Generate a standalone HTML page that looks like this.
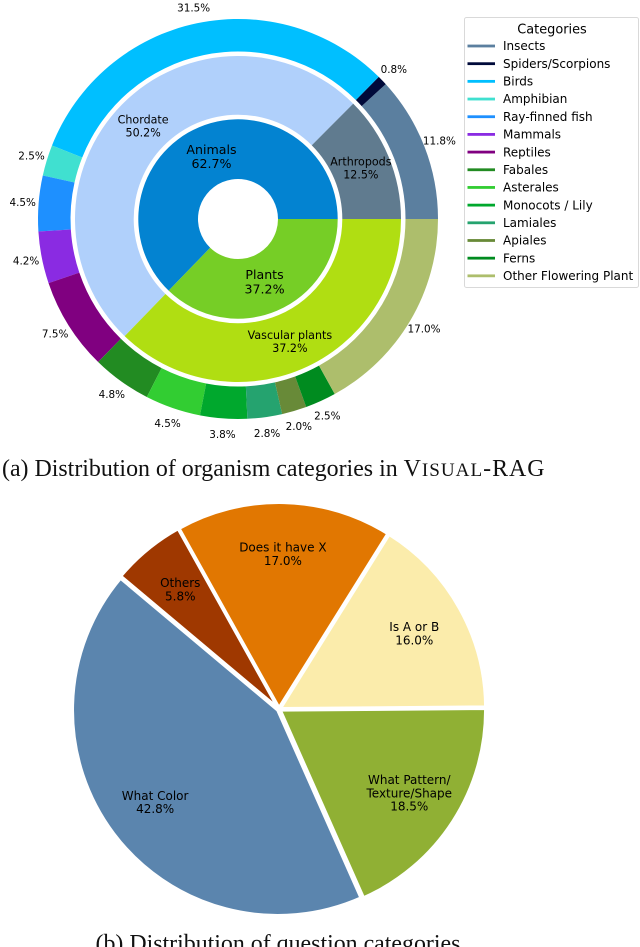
<!DOCTYPE html>
<html>
<head>
<meta charset="utf-8">
<style>
html,body{margin:0;padding:0;background:#fff;width:640px;height:947px;overflow:hidden}
svg{display:block}
text{font-family:"DejaVu Sans",sans-serif;fill:#000}
.cap{font-family:"Liberation Serif",serif;font-size:23.9px;fill:#111}
</style>
</head>
<body>
<svg id="fig" width="640" height="947" viewBox="0 0 640 947" xmlns="http://www.w3.org/2000/svg">
<g id="sunburst"></g>
<g id="legend"></g>
<text class="cap" x="2" y="476">(a) Distribution of organism categories in <tspan letter-spacing="1">V<tspan font-size="19.1">ISUAL</tspan>-RAG</tspan></text>
<g id="pie"></g>
<text class="cap" x="95.5" y="951">(b) Distribution of question categories</text>
</svg>
<script>
var innerLabels = ['Animals', 'Plants'];
var innerValues = [62.7, 37.2];
var innerColors = ['#0383d1', '#76ce26'];

var middleLabels = ['Arthropods', 'Chordate', 'Vascular plants'];
var middleValues = [12.5, 50.2, 37.2];
var middleColors = ['#607b8f', '#b0d0fb', '#b0de12'];

var outerLabels = ['Insects', 'Spiders/Scorpions', 'Birds', 'Amphibian', 'Ray-finned fish', 'Mammals', 'Reptiles', 'Fabales', 'Asterales', 'Monocots / Lily', 'Lamiales', 'Apiales', 'Ferns', 'Other Flowering Plant'];
var outerValues = [11.8, 0.8, 31.5, 2.5, 4.5, 4.2, 7.5, 4.8, 4.5, 3.8, 2.8, 2.0, 2.5, 17.0];
var outerColors = ['#5b7f9f', '#000a3a', '#00bfff', '#40e0d0', '#1e90ff', '#8a2be2', '#800080', '#228b22', '#32cd32', '#00a82d', '#25a36f', '#688a38', '#008b1f', '#adbe6c'];

var pieLabels = ['Is A or B', 'Does it have X', 'Others', 'What Color', 'What Pattern/\nTexture/Shape'];
var pieValues = [16.0, 17.0, 5.8, 42.8, 18.5];
var pieColors = ['#fbecab', '#e17701', '#9f3800', '#5b85ae', '#90b034'];

var NS = 'http://www.w3.org/2000/svg';
var PIE_CX = 279, PIE_CY = 709.3, PIE_R = 205.2, PIE_START = 0.45, PIE_EXPLODE = 1.6;

function polar(cx, cy, r, deg) {
  var a = deg * Math.PI / 180;
  return [cx + r * Math.cos(a), cy - r * Math.sin(a)];
}
function sum(arr) {
  var s = 0;
  for (var i = 0; i < arr.length; i++) s += arr[i];
  return s;
}
function annulusPath(cx, cy, r0, r1, a0, a1) {
  var large = (a1 - a0) > 180 ? 1 : 0;
  var p0 = polar(cx, cy, r1, a0), p1 = polar(cx, cy, r1, a1);
  var p2 = polar(cx, cy, r0, a1), p3 = polar(cx, cy, r0, a0);
  return 'M' + p0[0] + ' ' + p0[1] +
    'A' + r1 + ' ' + r1 + ' 0 ' + large + ' 0 ' + p1[0] + ' ' + p1[1] +
    'L' + p2[0] + ' ' + p2[1] +
    'A' + r0 + ' ' + r0 + ' 0 ' + large + ' 1 ' + p3[0] + ' ' + p3[1] + 'Z';
}
function wedgePath(cx, cy, r, a0, a1) {
  var large = (a1 - a0) > 180 ? 1 : 0;
  var p0 = polar(cx, cy, r, a0), p1 = polar(cx, cy, r, a1);
  return 'M' + cx + ' ' + cy + 'L' + p0[0] + ' ' + p0[1] +
    'A' + r + ' ' + r + ' 0 ' + large + ' 0 ' + p1[0] + ' ' + p1[1] + 'Z';
}
function slug(s) {
  return s.toLowerCase().replace(/[^a-z0-9]+/g, '-').replace(/^-|-$/g, '');
}
function addLabel(parent, x, y, lines, size, lh, name) {
  var t = document.createElementNS(NS, 'text');
  
  
  t.setAttribute('text-anchor', 'middle');
  t.setAttribute('font-size', size);
  for (var i = 0; i < lines.length; i++) {
    var s = document.createElementNS(NS, 'tspan');
    s.setAttribute('x', x);
    s.setAttribute('y', y + (i - (lines.length - 1) / 2) * lh + 0.36 * size);
    s.textContent = lines[i];
    t.appendChild(s);
  }
  parent.appendChild(t);
}
function drawRing(parent, cx, cy, r0, r1, labels, values, colors, labelR, size, lh, withName) {
  var total = sum(values), acc = 0;
  for (var i = 0; i < values.length; i++) {
    var a0 = acc / total * 360;
    acc += values[i];
    var a1 = acc / total * 360;
    var p = document.createElementNS(NS, 'path');
    
    
    p.setAttribute('d', annulusPath(cx, cy, r0, r1, a0, a1));
    p.setAttribute('fill', colors[i]);
    parent.appendChild(p);
    var c = polar(cx, cy, labelR, (a0 + a1) / 2);
    var pct = values[i].toFixed(1) + '%';
    addLabel(parent, c[0], c[1], withName ? [labels[i], pct] : [pct], size, lh, 'label-' + slug(labels[i]));
  }
}

var sun = document.getElementById('sunburst');
drawRing(sun, 238, 219, 40, 99.7, innerLabels, innerValues, innerColors, 68, 12.6, 14.3, true);
drawRing(sun, 238, 219, 104.3, 163, middleLabels, middleValues, middleColors, 133, 11.1, 13, true);
drawRing(sun, 238, 219, 167.5, 200, outerLabels, outerValues, outerColors, 216, 10.4, 13, false);

var leg = document.getElementById('legend');
var box = document.createElementNS(NS, 'rect');


box.setAttribute('x', 464.5);
box.setAttribute('y', 17.5);
box.setAttribute('width', 174);
box.setAttribute('height', 270);
box.setAttribute('rx', 2);
box.setAttribute('fill', '#fff');
box.setAttribute('stroke', '#d9d9d9');
leg.appendChild(box);
addLabel(leg, 552, 29, ['Categories'], 12.9, 13, 'legend-title');
for (var i = 0; i < outerLabels.length; i++) {
  var y = 46 + i * 17.68;
  var ln = document.createElementNS(NS, 'rect');
  
  
  ln.setAttribute('x', 467.5);
  ln.setAttribute('y', y - 1.4);
  ln.setAttribute('width', 27.5);
  ln.setAttribute('height', 2.8);
  ln.setAttribute('fill', outerColors[i]);
  leg.appendChild(ln);
  var tx = document.createElementNS(NS, 'text');
  
  
  tx.setAttribute('x', 503);
  tx.setAttribute('y', y + 4.2);
  tx.setAttribute('font-size', 12);
  tx.textContent = outerLabels[i];
  leg.appendChild(tx);
}

var pie = document.getElementById('pie');
var pieTotal = sum(pieValues), pieAcc = 0, pieMids = [];
for (var j = 0; j < pieValues.length; j++) {
  var b0 = PIE_START + pieAcc / pieTotal * 360;
  pieAcc += pieValues[j];
  var b1 = PIE_START + pieAcc / pieTotal * 360;
  var mid = (b0 + b1) / 2;
  var apex = polar(PIE_CX, PIE_CY, PIE_EXPLODE, mid);
  var w = document.createElementNS(NS, 'path');
  
  
  w.setAttribute('d', wedgePath(apex[0], apex[1], PIE_R, b0, b1));
  w.setAttribute('fill', pieColors[j]);
  w.setAttribute('stroke', '#fff');
  w.setAttribute('stroke-width', 3);
  w.setAttribute('stroke-linejoin', 'round');
  pie.appendChild(w);
  pieMids.push(mid);
}
for (var k = 0; k < pieValues.length; k++) {
  var pc = polar(PIE_CX, 709, 155, pieMids[k]);
  var lines = pieLabels[k].split('\n');
  lines.push(pieValues[k].toFixed(1) + '%');
  addLabel(pie, pc[0], pc[1], lines, 12, 13.4, 'pie-label-' + slug(pieLabels[k]));
}
</script>
</body>
</html>
